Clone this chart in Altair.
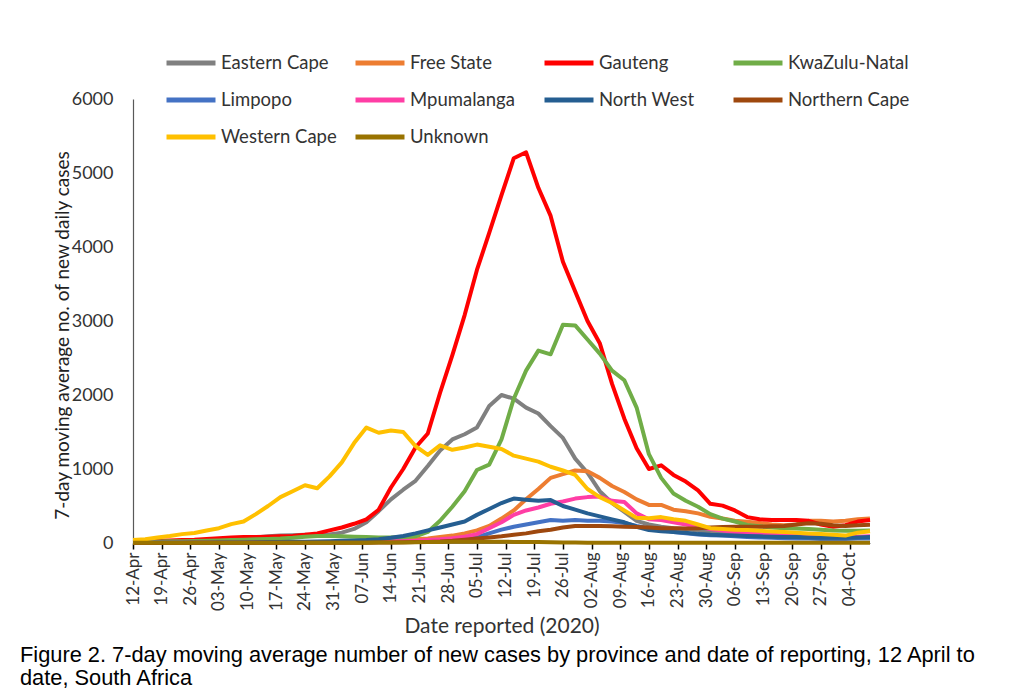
import altair as alt
import pandas as pd

dates = [
    "2020-04-12", "2020-04-15", "2020-04-18", "2020-04-21", "2020-04-24", "2020-04-27", "2020-04-30",
    "2020-05-03", "2020-05-06", "2020-05-09", "2020-05-12", "2020-05-15", "2020-05-18", "2020-05-21",
    "2020-05-24", "2020-05-27", "2020-05-30", "2020-06-02", "2020-06-05", "2020-06-08", "2020-06-11",
    "2020-06-14", "2020-06-17", "2020-06-20", "2020-06-23", "2020-06-26", "2020-06-29", "2020-07-02",
    "2020-07-05", "2020-07-08", "2020-07-11", "2020-07-14", "2020-07-17", "2020-07-20", "2020-07-23",
    "2020-07-26", "2020-07-29", "2020-08-01", "2020-08-04", "2020-08-07", "2020-08-10", "2020-08-13",
    "2020-08-16", "2020-08-19", "2020-08-22", "2020-08-25", "2020-08-28", "2020-08-31", "2020-09-03",
    "2020-09-06", "2020-09-09", "2020-09-12", "2020-09-15", "2020-09-18", "2020-09-21", "2020-09-24",
    "2020-09-27", "2020-09-30", "2020-10-03", "2020-10-06", "2020-10-09",
]

eastern_cape = [10, 15, 20, 25, 30, 35, 40, 45, 55, 65, 75, 90, 100, 105, 110, 105, 115, 140, 190, 280,
                430, 590, 720, 840, 1040, 1250, 1400, 1470, 1560, 1850, 2000, 1950, 1830, 1750, 1580,
                1420, 1140, 950, 700, 540, 420, 300, 250, 220, 200, 190, 170, 150, 140, 120, 110, 100,
                95, 90, 85, 80, 75, 70, 70, 75, 80]
free_state = [5, 5, 5, 5, 5, 5, 5, 5, 5, 5, 8, 10, 10, 10, 12, 15, 15, 18, 20, 25, 30, 35, 40, 50, 60,
              80, 100, 130, 170, 230, 330, 440, 590, 730, 880, 930, 980, 970, 880, 770, 690, 590, 515,
              515, 450, 430, 400, 355, 330, 300, 288, 270, 250, 240, 250, 300, 300, 290, 300, 320, 330]
gauteng = [20, 25, 30, 35, 40, 45, 55, 65, 75, 80, 80, 85, 90, 95, 110, 130, 170, 210, 260, 320, 450,
           750, 1000, 1290, 1480, 2030, 2540, 3080, 3690, 4190, 4700, 5200, 5280, 4800, 4420, 3800,
           3400, 3000, 2700, 2150, 1680, 1280, 1000, 1050, 920, 830, 710, 530, 505, 440, 350, 320,
           310, 310, 310, 300, 250, 220, 240, 290, 310]
kwazulu_natal = [15, 18, 20, 22, 25, 28, 30, 35, 40, 45, 50, 55, 60, 70, 85, 95, 95, 90, 85, 80, 75,
                 75, 80, 90, 150, 300, 490, 700, 986, 1060, 1400, 1950, 2330, 2600, 2550, 2950, 2940,
                 2750, 2560, 2330, 2200, 1830, 1200, 880, 670, 570, 490, 390, 330, 290, 243, 225, 210,
                 200, 195, 190, 180, 170, 165, 165, 170]
limpopo = [2, 2, 2, 3, 3, 3, 4, 4, 5, 5, 6, 6, 7, 8, 8, 9, 10, 10, 12, 12, 15, 18, 20, 25, 30, 40, 50,
           65, 80, 130, 180, 220, 250, 280, 310, 300, 311, 300, 300, 290, 270, 230, 200, 180, 150, 130,
           115, 105, 100, 90, 80, 75, 70, 65, 60, 60, 55, 55, 55, 60, 60]
mpumalanga = [2, 2, 2, 3, 3, 3, 4, 4, 5, 5, 6, 6, 7, 8, 8, 9, 10, 10, 12, 12, 15, 20, 25, 30, 40, 50,
              65, 85, 120, 200, 280, 380, 440, 480, 530, 560, 600, 620, 630, 570, 555, 400, 320, 310,
              280, 250, 220, 190, 170, 150, 130, 120, 110, 100, 95, 90, 85, 80, 80, 85, 90]
north_west = [3, 3, 3, 4, 4, 5, 5, 6, 7, 8, 10, 12, 14, 16, 18, 20, 25, 30, 35, 40, 50, 70, 95, 130,
              170, 210, 250, 290, 380, 460, 540, 600, 585, 570, 580, 500, 450, 400, 360, 320, 280, 220,
              175, 160, 150, 140, 120, 110, 105, 100, 95, 90, 85, 80, 80, 75, 70, 70, 70, 75, 80]
northern_cape = [1, 1, 1, 1, 1, 2, 2, 2, 2, 2, 3, 3, 3, 3, 4, 4, 4, 5, 5, 5, 6, 8, 10, 12, 15, 20, 30,
                 45, 60, 75, 90, 110, 130, 160, 180, 210, 230, 230, 230, 225, 220, 215, 210, 200, 198,
                 195, 200, 210, 215, 220, 220, 220, 225, 230, 250, 266, 260, 240, 230, 240, 245]
western_cape = [40, 50, 75, 95, 120, 135, 170, 200, 255, 290, 390, 500, 620, 700, 780, 740, 900, 1090,
                1350, 1560, 1490, 1520, 1500, 1310, 1190, 1320, 1260, 1290, 1330, 1300, 1270, 1180,
                1140, 1100, 1030, 980, 920, 730, 620, 540, 440, 340, 333, 350, 320, 300, 250, 200, 190,
                180, 175, 165, 155, 150, 140, 130, 120, 110, 100, 140, 160]
unknown = [2, 2, 2, 2, 2, 2, 2, 2, 2, 2, 3, 3, 3, 3, 3, 3, 4, 4, 5, 5, 6, 6, 8, 10, 12, 14, 16, 18,
           18, 18, 16, 15, 14, 12, 10, 8, 6, 5, 5, 4, 4, 4, 3, 3, 3, 3, 3, 3, 3, 3, 3, 3, 3, 3, 3, 3,
           3, 3, 3, 3, 3]

series_names = ["Eastern Cape", "Free State", "Gauteng", "KwaZulu-Natal", "Limpopo",
                "Mpumalanga", "North West", "Northern Cape", "Western Cape", "Unknown"]
series_values = [eastern_cape, free_state, gauteng, kwazulu_natal, limpopo,
                 mpumalanga, north_west, northern_cape, western_cape, unknown]
series_colors = ["#808080", "#ed7d31", "#ff0000", "#70ad47", "#4472c4",
                 "#ff3ea5", "#255e91", "#9e480e", "#ffc000", "#997300"]

tick_dates = ["2020-04-12", "2020-04-19", "2020-04-26", "2020-05-03", "2020-05-10", "2020-05-17",
              "2020-05-24", "2020-05-31", "2020-06-07", "2020-06-14", "2020-06-21", "2020-06-28",
              "2020-07-05", "2020-07-12", "2020-07-19", "2020-07-26", "2020-08-02", "2020-08-09",
              "2020-08-16", "2020-08-23", "2020-08-30", "2020-09-06", "2020-09-13", "2020-09-20",
              "2020-09-27", "2020-10-04"]

rows = []
for i, (name, vals) in enumerate(zip(series_names, series_values)):
    for d, v in zip(dates, vals):
        rows.append({"date": pd.Timestamp(d), "province": name, "value": v, "idx": i})
df = pd.DataFrame(rows)


def dt(s):
    t = pd.Timestamp(s)
    return alt.DateTime(year=t.year, month=t.month, date=t.day)


chart = alt.Chart(df).mark_line(strokeWidth=4, strokeJoin="round").encode(
    x=alt.X(
        "date:T",
        scale=alt.Scale(domain=[dt("2020-04-12"), dt("2020-10-09")], nice=False),
        axis=alt.Axis(
            title="Date reported (2020)",
            values=[dt(s) for s in tick_dates],
            format="%d-%b",
            labelAngle=-90,
            labelFont="Lato",
            labelFontSize=17,
            labelColor="#333333",
            labelPadding=3,
            labelOverlap=False,
            labelFlush=False,
            tickSize=6,
            tickColor="#000000",
            tickWidth=1.5,
            domainColor="#7f7f7f",
            domainWidth=1,
            grid=False,
            titleFont="Lato",
            titleFontSize=21,
            titleFontWeight="normal",
            titleColor="#333333",
            titlePadding=5,
        ),
    ),
    y=alt.Y(
        "value:Q",
        scale=alt.Scale(domain=[0, 6000], nice=False),
        axis=alt.Axis(
            title="7-day moving average no. of new daily cases",
            values=[0, 1000, 2000, 3000, 4000, 5000, 6000],
            format="d",
            labelFont="Lato",
            labelFontSize=18,
            labelColor="#333333",
            ticks=False,
            tickSize=0,
            labelPadding=20,
            domainColor="#595959",
            domainWidth=1.2,
            grid=False,
            titleFont="Lato",
            titleFontSize=19,
            titleFontWeight="normal",
            titleColor="#222222",
            titleX=-71,
            titleY=236,
            titleBaseline="middle",
        ),
    ),
    color=alt.Color(
        "province:N",
        scale=alt.Scale(domain=series_names, range=series_colors),
        legend=alt.Legend(
            title=None,
            orient="none",
            direction="horizontal",
            legendX=31,
            legendY=-63,
            columns=4,
            gridAlign="all",
            columnPadding=2,
            rowPadding=-12,
            symbolType="stroke",
            symbolSize=2400,
            symbolStrokeWidth=5,
            labelFont="Lato",
            labelFontSize=18.5,
            labelColor="#333333",
            labelOffset=3,
            labelLimit=300,
        ),
    ),
    order=alt.Order("date:T"),
    detail="idx:O",
).properties(
    width=737,
    height=444,
    padding={"left": 125, "top": 91, "right": 140, "bottom": 147},
    autosize=alt.AutoSizeParams(type="none"),
    title=alt.Title(
        text=["Figure 2. 7-day moving average number of new cases by province and date of reporting, 12 April to",
              "date, South Africa"],
        orient="bottom",
        anchor="start",
        frame="group",
        dx=-113,
        offset=8,
        font="Liberation Sans",
        fontSize=21.8,
        fontWeight="normal",
        color="#000000",
        lineHeight=23,
    ),
).configure_view(stroke=None)

chart.save("out.html", embed_options={"renderer": "svg", "actions": False})
